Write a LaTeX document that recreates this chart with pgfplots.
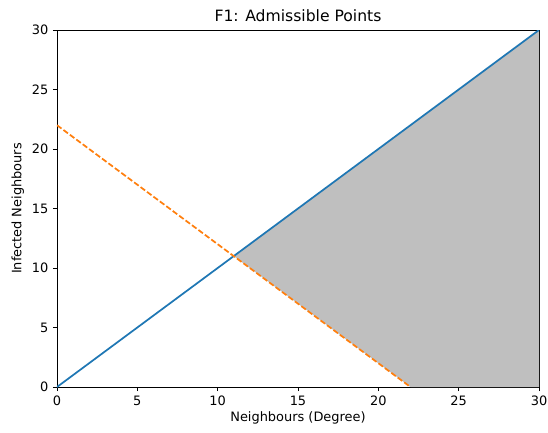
\documentclass[border=0pt]{standalone}
\usepackage{pgfplots}
\pgfplotsset{compat=1.18}
\usepackage{fontspec}
\setmainfont{DejaVu Sans}
\definecolor{mplblue}{HTML}{1F77B4}
\definecolor{mplorange}{HTML}{FF7F0E}
\definecolor{fillgray}{HTML}{BFBFBF}
\begin{document}
\begin{tikzpicture}
\begin{axis}[
  scale only axis,
  width=361.5pt, height=267.75pt,
  xmin=0, xmax=30, ymin=0, ymax=30,
  xtick={0,5,10,15,20,25,30},
  ytick={0,5,10,15,20,25,30},
  tick align=outside, tick pos=left,
  major tick length=3pt,
  every tick/.style={black, line width=0.6pt},
  axis line style={line width=0.6pt},
  /pgf/number format/assume math mode=true,
  tick label style={font=\fontsize{9.7}{11}\selectfont},
  label style={font=\fontsize{9.7}{11}\selectfont},
  title style={font=\fontsize{11.7}{13}\selectfont, yshift=-3pt},
  title={F1: Admissible Points},
  xlabel={Neighbours (Degree)},
  ylabel={Infected Neighbours},
  xlabel style={yshift=2pt},
  ylabel style={yshift=-1pt},
]
\addplot[fill=fillgray, draw=none] coordinates {(11,11) (30,30) (30,0) (22,0)} -- cycle;
\addplot[mplblue, line width=1.3pt] coordinates {(0,0) (30,30)};
\addplot[mplorange, line width=1.3pt, dash pattern=on 4.2pt off 1.8pt] coordinates {(0,22) (22,0)};
\end{axis}
\pgfresetboundingbox
\path ([shift={(-42.75pt,-33.75pt)}]current axis.south west) rectangle ([shift={(6.75pt,22.5pt)}]current axis.north east);
\end{tikzpicture}
\end{document}
